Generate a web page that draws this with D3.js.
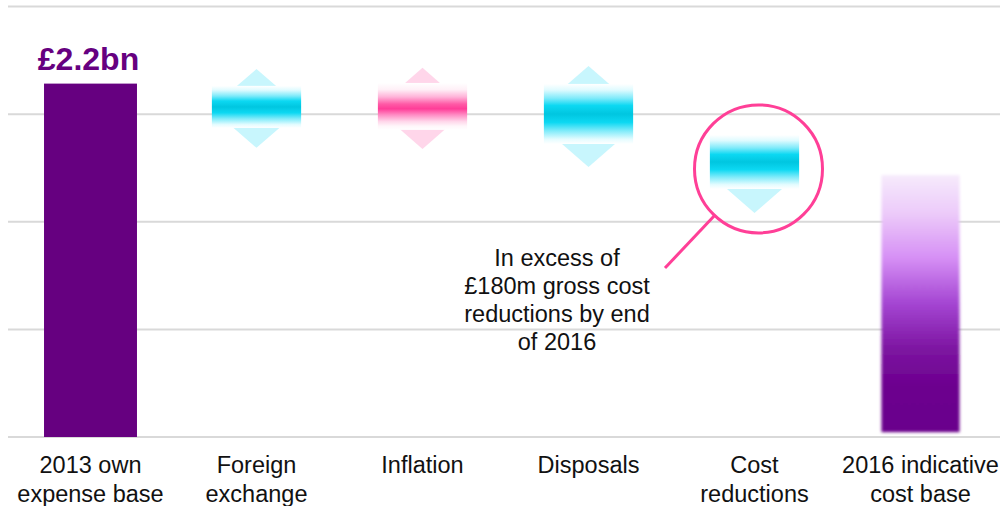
<!DOCTYPE html>
<html>
<head>
<meta charset="utf-8">
<script src="https://cdn.jsdelivr.net/npm/d3@7"></script>
<style>
  html, body { margin: 0; padding: 0; background: #fff; }
  svg { display: block; font-family: 'Liberation Sans', Arial, sans-serif; }
</style>
</head>
<body>
<svg id="chart"></svg>
<script>
// categories (two-line labels)
const categories = ['2013 own expense base', 'Foreign exchange', 'Inflation', 'Disposals', 'Cost reductions', '2016 indicative cost base'];
const labelLines = [['2013 own', 'expense base'], ['Foreign', 'exchange'], ['Inflation'], ['Disposals'], ['Cost', 'reductions'], ['2016 indicative', 'cost base']];

// values in £bn
const startValue = 2.2;
const startLabel = '£2.2bn';
const endTop = 1.63;
const endBottom = 0.03;

// floating movements: bar range plus arrow tips (null = no arrow)
const moveCats = ['Foreign exchange', 'Inflation', 'Disposals', 'Cost reductions'];
const moveTop = [2.186, 2.204, 2.198, 1.880];
const moveBottom = [1.924, 1.912, 1.824, 1.544];
const upTip = [2.291, 2.298, 2.310, null];
const downTip = [1.800, 1.793, 1.681, 1.395];
const moveKind = ['cyan', 'pink', 'cyan', 'cyan'];

const gridValues = [0, 0.67, 1.34, 2.01, 2.68];

const noteLines = ['In excess of', '£180m gross cost', 'reductions by end', 'of 2016'];
const noteTargetValue = 1.669;

const W = 1000, H = 506;
const purple = '#660080';
const pink = '#ff3f97';

const svg = d3.select('#chart').attr('width', W).attr('height', H);
const defs = svg.append('defs');

const x = d3.scaleBand()
  .domain(categories)
  .range([7.5, 1003.5])
  .paddingInner(0.44)
  .paddingOuter(0.22);

const y = d3.scaleLinear().domain([0, 2.68]).range([437, 6.5]);

// gradients
function vGrad(id, stops) {
  const g = defs.append('linearGradient').attr('id', id)
    .attr('x1', 0).attr('y1', 0).attr('x2', 0).attr('y2', 1);
  stops.forEach(([o, c]) => g.append('stop').attr('offset', o).attr('stop-color', c));
}
vGrad('g-cyan', [[0, '#ffffff'], [0.1, '#e0fbff'], [0.24, '#7eeafa'], [0.36, '#0cd8f2'], [0.5, '#00c6e0'], [0.64, '#0cd8f2'], [0.78, '#80ebfa'], [0.92, '#e4fcff'], [1, '#ffffff']]);
vGrad('g-pink', [[0, '#ffffff'], [0.14, '#fff0f7'], [0.3, '#ffb2d8'], [0.45, '#ff5aa6'], [0.55, '#ff3d98'], [0.68, '#ff8cc4'], [0.82, '#ffd6ea'], [0.92, '#fff6fa'], [1, '#ffffff']]);
vGrad('g-end', [[0, '#f6eafc'], [0.15, '#eccaf9'], [0.32, '#d690f5'], [0.5, '#a445d2'], [0.68, '#7c14a0'], [0.82, '#6c008e'], [1, '#6a008c']]);

defs.append('filter').attr('id', 'soft')
  .attr('x', '-20%').attr('y', '-10%').attr('width', '140%').attr('height', '120%')
  .append('feGaussianBlur').attr('stdDeviation', 1.8);

// gridlines
svg.append('g')
  .selectAll('line')
  .data(gridValues)
  .join('line')
  .attr('x1', 8)
  .attr('x2', W)
  .attr('y1', d => y(d))
  .attr('y2', d => y(d))
  .attr('stroke', '#d9d9d9')
  .attr('stroke-width', 2);

// 2013 bar
svg.append('rect')
  .attr('x', x(categories[0]))
  .attr('y', y(startValue))
  .attr('width', x.bandwidth())
  .attr('height', y(0) - y(startValue))
  .attr('fill', purple);

svg.append('text')
  .attr('x', x(categories[0]) + x.bandwidth() / 2 - 2)
  .attr('y', y(startValue) - 14)
  .attr('text-anchor', 'middle')
  .style('font-size', '32px')
  .style('font-weight', 'bold')
  .attr('fill', purple)
  .text(startLabel);

// floating movement bars with arrows
const slope = 1.15;
const lightFill = { cyan: '#c8f6fd', pink: '#ffd6ea' };
moveCats.forEach((cat, i) => {
  const bw = x.bandwidth() * 0.96;
  const cx = x(cat) + x.bandwidth() / 2;
  const yTop = y(moveTop[i]);
  const yBot = y(moveBottom[i]);
  const g = svg.append('g');

  if (upTip[i] != null) {
    const tip = y(upTip[i]);
    const base = yTop + 4;
    const hw = (base - tip) * slope;
    g.append('path')
      .attr('d', `M${cx},${tip}L${cx + hw},${base}L${cx - hw},${base}Z`)
      .attr('fill', lightFill[moveKind[i]]);
  }
  if (downTip[i] != null) {
    const tip = y(downTip[i]);
    const base = yBot - 4;
    const hw = (tip - base) * slope;
    g.append('path')
      .attr('d', `M${cx},${tip}L${cx + hw},${base}L${cx - hw},${base}Z`)
      .attr('fill', lightFill[moveKind[i]]);
  }

  g.append('rect')
    .attr('x', cx - bw / 2)
    .attr('y', yTop)
    .attr('width', bw)
    .attr('height', yBot - yTop)
    .attr('fill', `url(#g-${moveKind[i]})`);
});

// 2016 bar (soft edges)
{
  const cat = categories[5];
  const bw = x.bandwidth() * 0.84;
  const cx = x(cat) + x.bandwidth() / 2;
  svg.append('rect')
    .attr('x', cx - bw / 2)
    .attr('y', y(endTop))
    .attr('width', bw)
    .attr('height', y(endBottom) - y(endTop))
    .attr('fill', 'url(#g-end)')
    .attr('filter', 'url(#soft)');
}

// callout circle + connector
const ccx = x('Cost reductions') + x.bandwidth() / 2 + 4;
const ccy = y(noteTargetValue);
const r = 64;
svg.append('circle')
  .attr('cx', ccx)
  .attr('cy', ccy)
  .attr('r', r)
  .attr('fill', 'none')
  .attr('stroke', pink)
  .attr('stroke-width', 3);

const endX = 665, endY = 268;
const ang = Math.atan2(endY - ccy, endX - ccx);
svg.append('line')
  .attr('x1', ccx + r * Math.cos(ang))
  .attr('y1', ccy + r * Math.sin(ang))
  .attr('x2', endX)
  .attr('y2', endY)
  .attr('stroke', pink)
  .attr('stroke-width', 3);

// note text
svg.append('text')
  .attr('text-anchor', 'middle')
  .style('font-size', '23.5px')
  .attr('fill', '#111')
  .selectAll('tspan')
  .data(noteLines)
  .join('tspan')
  .attr('x', 557)
  .attr('y', (d, i) => 266 + i * 28)
  .text(d => d);

// category labels
const labels = svg.append('g')
  .style('font-size', '23.5px')
  .attr('fill', '#111')
  .attr('text-anchor', 'middle');
categories.forEach((cat, i) => {
  labels.append('text')
    .selectAll('tspan')
    .data(labelLines[i])
    .join('tspan')
    .attr('x', x(cat) + x.bandwidth() / 2)
    .attr('y', (d, j) => 473 + j * 29)
    .text(d => d);
});
</script>
</body>
</html>
